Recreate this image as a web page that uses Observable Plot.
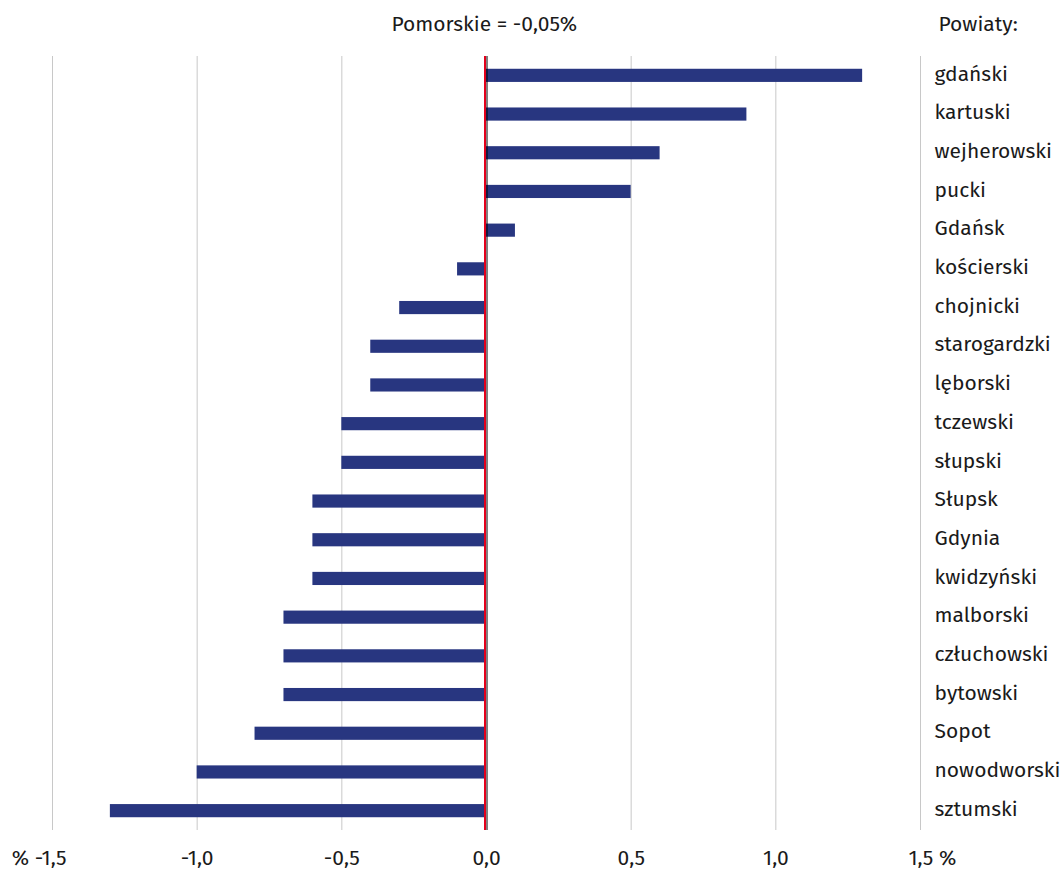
<!DOCTYPE html>
<html>
<head>
<meta charset="utf-8">
<script src="https://cdn.jsdelivr.net/npm/d3@7"></script>
<script src="https://cdn.jsdelivr.net/npm/@observablehq/plot@0.6"></script>
<style>
  body { margin: 0; background: #fff; }
  #chart svg { font-family: "Fira Sans", "Noto Sans", sans-serif; }
</style>
</head>
<body>
<div id="chart"></div>
<script>
const powiaty = ["gdański","kartuski","wejherowski","pucki","Gdańsk","kościerski","chojnicki","starogardzki","lęborski","tczewski","słupski","Słupsk","Gdynia","kwidzyński","malborski","człuchowski","bytowski","Sopot","nowodworski","sztumski"];
const values = [1.3, 0.9, 0.6, 0.5, 0.1, -0.1, -0.3, -0.4, -0.4, -0.5, -0.5, -0.6, -0.6, -0.6, -0.7, -0.7, -0.7, -0.8, -1.0, -1.3];
const xTicks = [-1.5, -1.0, -0.5, 0.0, 0.5, 1.0, 1.5];
const gridTicks = [-1.5, -1.0, -0.5, 0.5, 1.0, 1.5];
const pomorskie = -0.05;
const titleText = "Pomorskie = -0,05%";
const legendTitle = "Powiaty:";

const data = powiaty.map((p, i) => ({powiat: p, value: values[i]}));
const fmt = v => v.toFixed(1).replace(".", ",");
const FS = 21;

const chart = Plot.plot({
  width: 1064,
  height: 870,
  marginLeft: 52,
  marginRight: 144,
  marginTop: 56,
  marginBottom: 40,
  style: {fontSize: FS + "px", fontFamily: "'Fira Sans','Noto Sans',sans-serif", color: "#1a1a1a"},
  x: {domain: [-1.5, 1.5], axis: null},
  y: {domain: powiaty, paddingInner: 0.66, paddingOuter: 0.33, round: false, axis: null},
  marks: [
    Plot.ruleX(gridTicks, {stroke: "#c8c8c8", strokeWidth: 1}),
    Plot.barX(data, {x: "value", y: "powiat", fill: "#283680"}),
    Plot.ruleX([0], {stroke: "#000", strokeWidth: 1, dx: 0.5}),
    Plot.ruleX([0], {stroke: "#e3001b", strokeWidth: 2, dx: -1.5}),
    Plot.axisY({anchor: "right", label: null, tickSize: 0, tickPadding: 14, textAnchor: "start", fontSize: FS, dy: -2}),
    Plot.text(xTicks.filter(t => t > -1.5 && t < 1.5), {x: d => d, frameAnchor: "bottom", lineAnchor: "middle", dy: 28, text: fmt, fontSize: FS}),
    Plot.text([-1.5], {x: d => d, frameAnchor: "bottom", lineAnchor: "middle", dy: 28, text: d => "% " + fmt(d), textAnchor: "end", dx: 14, fontSize: FS}),
    Plot.text([1.5], {x: d => d, frameAnchor: "bottom", lineAnchor: "middle", dy: 28, text: d => fmt(d) + " %", textAnchor: "start", dx: -12, fontSize: FS}),
    Plot.text([titleText], {x: [-0.008], frameAnchor: "top", lineAnchor: "middle", dy: -32, text: d => d, fontSize: FS}),
    Plot.text([legendTitle], {frameAnchor: "top-right", lineAnchor: "middle", dy: -32, dx: 18, textAnchor: "start", text: d => d, fontSize: FS})
  ]
});
document.getElementById("chart").appendChild(chart);
</script>
</body>
</html>
